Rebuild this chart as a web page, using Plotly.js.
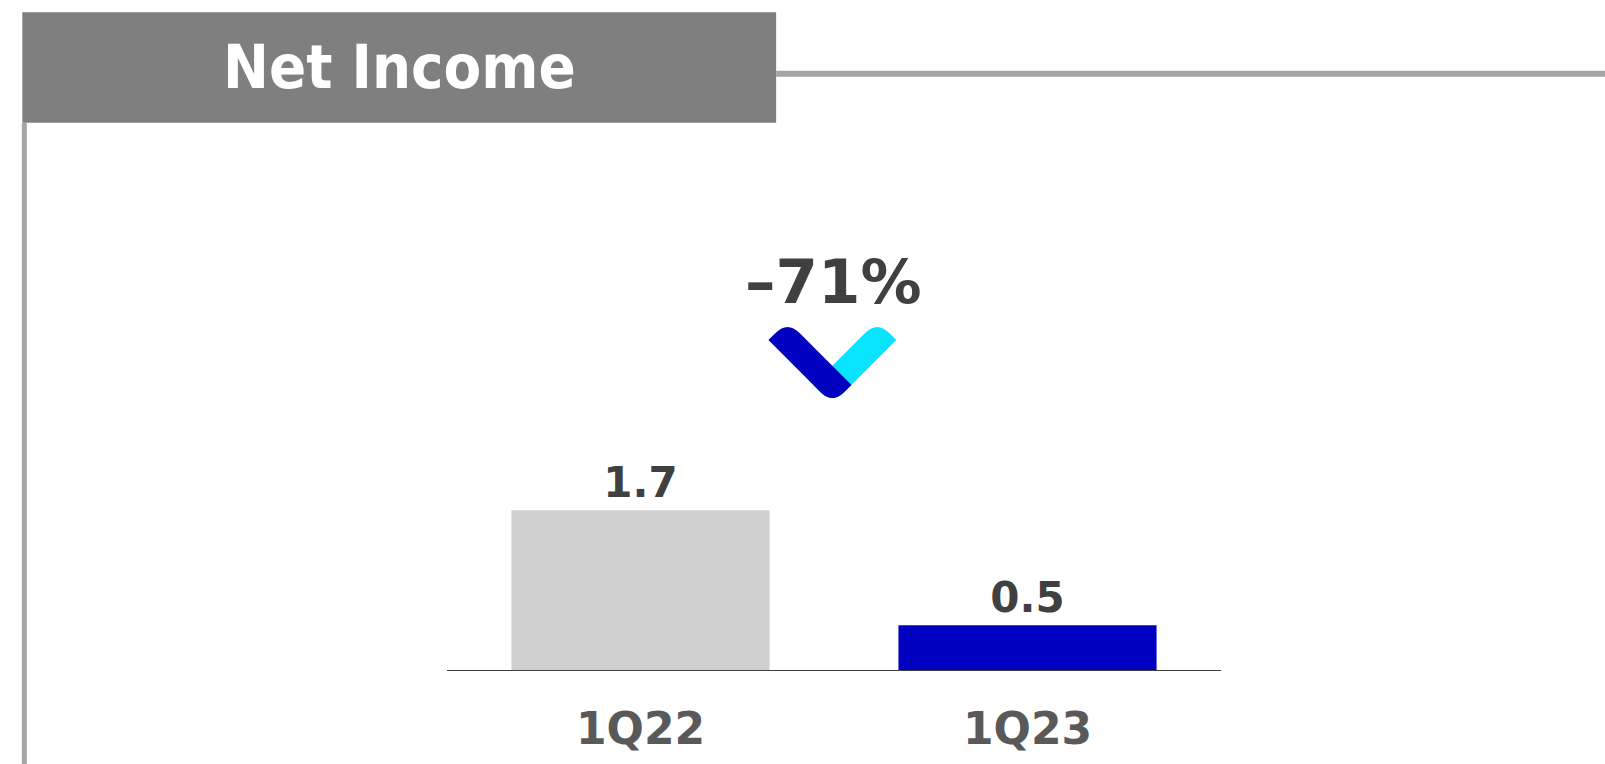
<!DOCTYPE html>
<html><head><meta charset="utf-8">
<script src="https://cdn.plot.ly/plotly-3.0.1.min.js"></script>
<style>html,body{margin:0;padding:0;background:#fff;overflow:hidden}#chart{width:1605px;height:764px}</style>
</head><body><div id="chart"></div>
<script>
// ---- data ----
const categories = ['1Q22', '1Q23'];
const netIncome = [1.72, 0.49];
const barColors = ['#d0cfd0', '#0000c0'];
const chartTitle = 'Net Income';
const changeLabel = '\u201371%';

// ---- layout geometry (pixels) ----
const L = 447, R = 1220.7, T = 130, B = 671;
const px = x => (x - L) / (R - L);
const py = y => (B - y) / (B - T);

function roundedPoly(pts) {
  // pts: [x, y, r] in pixels; r = rounding distance along edges
  let s = '';
  const n = pts.length;
  for (let i = 0; i < n; i++) {
    const [x, y, r] = pts[i];
    if (!r) {
      s += (i === 0 ? 'M' : 'L') + px(x) + ',' + py(y) + ' ';
    } else {
      const p = pts[(i - 1 + n) % n], q = pts[(i + 1) % n];
      const d1 = Math.hypot(p[0] - x, p[1] - y), d2 = Math.hypot(q[0] - x, q[1] - y);
      const bx = x + (p[0] - x) * r / d1, by = y + (p[1] - y) * r / d1;
      const ax = x + (q[0] - x) * r / d2, ay = y + (q[1] - y) * r / d2;
      s += 'L' + px(bx) + ',' + py(by) + ' Q' + px(x) + ',' + py(y) + ' ' + px(ax) + ',' + py(ay) + ' ';
    }
  }
  return s + 'Z';
}

const cx = 832.2, tipY = 404, armHalf = 63.9, wHalf = 19.1, rad = 17;
const darkArm = roundedPoly([
  [cx - armHalf, tipY - armHalf, 0],
  [cx - armHalf + wHalf, tipY - armHalf - wHalf, rad],
  [cx + wHalf, tipY - wHalf, 0],
  [cx, tipY, rad]
]);
const cyanArm = roundedPoly([
  [cx + armHalf, tipY - armHalf, 0],
  [cx, tipY, rad],
  [cx - wHalf, tipY - wHalf, 0],
  [cx + armHalf - wHalf, tipY - armHalf - wHalf, rad]
]);

const trace = {
  type: 'bar',
  x: categories,
  y: netIncome,
  marker: { color: barColors, line: { width: 0 } },
  texttemplate: '%{y:.1f}',
  textposition: 'outside',
  textfont: { family: 'DejaVu Sans', size: 42, color: '#404040', weight: 'bold' },
  cliponaxis: false,
  hoverinfo: 'none'
};

const layout = {
  width: 1605, height: 764,
  margin: { l: L, r: 1605 - R, t: T, b: 764 - B, pad: 0 },
  paper_bgcolor: '#ffffff', plot_bgcolor: '#ffffff',
  showlegend: false,
  bargap: 0.333,
  xaxis: {
    type: 'category', range: [-0.5, 1.5],
    showline: false, showgrid: false, zeroline: false, ticks: '',
    tickfont: { family: 'DejaVu Sans', size: 44, color: '#595959', weight: 'bold' },
    ticklabelstandoff: 28
  },
  yaxis: { range: [0, 5.79], visible: false, showgrid: false, zeroline: false },
  shapes: [
    { type: 'rect', xref: 'paper', yref: 'paper', x0: px(22.5), x1: px(776), y0: py(12.3), y1: py(122.8),
      fillcolor: '#7f7f7f', line: { width: 0 }, layer: 'below' },
    { type: 'line', xref: 'paper', yref: 'paper', x0: px(776), x1: px(1605), y0: py(73.7), y1: py(73.7),
      line: { color: '#a6a6a6', width: 6 } },
    { type: 'line', xref: 'paper', yref: 'paper', x0: px(24.5), x1: px(24.5), y0: py(122.8), y1: py(764),
      line: { color: '#a6a6a6', width: 5 } },
    { type: 'line', xref: 'paper', yref: 'y', x0: 0, x1: 1, y0: 0, y1: 0,
      line: { color: '#404040', width: 2 }, layer: 'above' },
    { type: 'path', xref: 'paper', yref: 'paper', path: cyanArm, fillcolor: '#08e4fd', line: { width: 0 }, layer: 'above' },
    { type: 'path', xref: 'paper', yref: 'paper', path: darkArm, fillcolor: '#0000c0', line: { width: 0 }, layer: 'above' }
  ],
  annotations: [
    { xref: 'paper', yref: 'paper', x: px(399.5), y: py(66), text: chartTitle, showarrow: false,
      xanchor: 'center', yanchor: 'middle',
      font: { family: 'DejaVu Sans Condensed', size: 61, color: '#ffffff', weight: 'bold' } },
    { xref: 'paper', yref: 'paper', x: px(833.8), y: py(281), text: changeLabel, showarrow: false,
      xanchor: 'center', yanchor: 'middle',
      font: { family: 'DejaVu Sans', size: 61, color: '#404040', weight: 'bold' } }
  ]
};

Plotly.newPlot('chart', [trace], layout, { displayModeBar: false, staticPlot: true });
</script>
</body></html>
